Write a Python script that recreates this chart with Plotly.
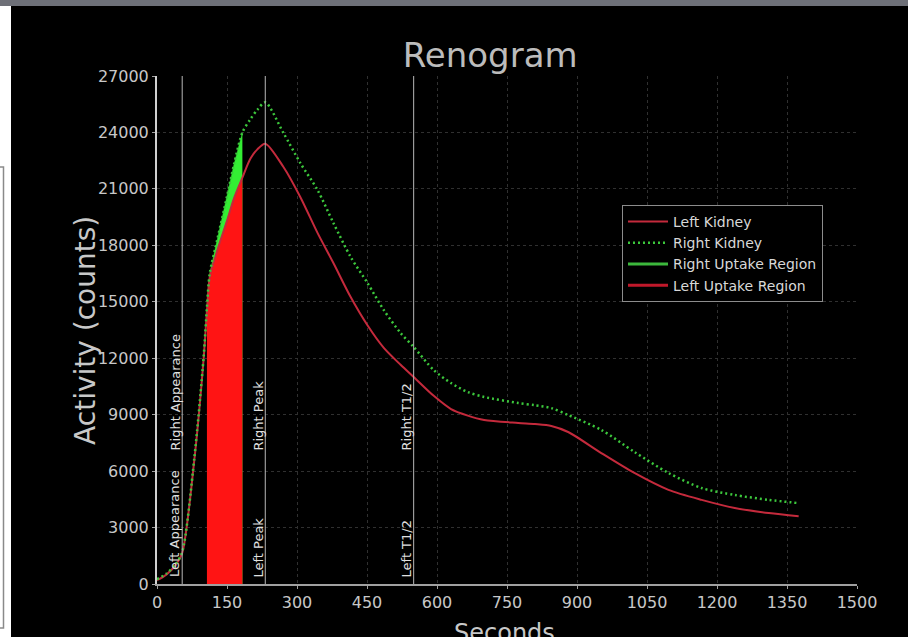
import plotly.graph_objects as go

# ---- data ----
time_s = [0, 20, 40, 54, 80, 100, 107, 113, 130, 150, 165, 183, 200, 215, 232,
          271, 307, 344, 378, 415, 451, 486, 522, 550, 593, 630, 666, 701, 774, 810, 845,
          881, 952, 1023, 1096, 1167, 1238, 1311, 1375]
left_kidney = [200, 500, 1000, 1650, 6600, 12000, 14500, 16300, 17800, 19300, 20500,
               21600, 22600, 23100, 23400, 22160, 20570, 18660, 17060, 15250, 13750,
               12550, 11650, 11000, 10000, 9300, 8950, 8720, 8560, 8500, 8400, 8080, 6960,
               5900, 5000, 4470, 4040, 3770, 3600]
right_kidney = [250, 550, 1050, 1700, 6700, 12100, 14700, 16500, 18400, 20600, 22300,
                24000, 24700, 25200, 25600, 23970, 22380, 20940, 19190, 17380, 16000,
                14560, 13340, 12600, 11370, 10680, 10200, 9940, 9620, 9500, 9350, 8980,
                8190, 7020, 5900, 5100, 4730, 4470, 4300]

right_uptake_t = [113, 130, 150, 165, 183]
right_uptake_v = [16500, 18400, 20600, 22300, 24000]
left_uptake_t = [107, 113, 130, 150, 165, 183]
left_uptake_v = [14500, 16300, 17800, 19300, 20500, 21600]

marker_times = [54, 232, 550]
marker_labels = ["Appearance", "Peak", "T1/2"]
right_label_y = 7000
left_label_y = 250

x_ticks = list(range(0, 1501, 150))
y_ticks = list(range(0, 27001, 3000))

# ---- styling ----
FONT = "DejaVu Sans"
TXT = "#c8c8c8"
RED_LINE = "#c42a3c"
GREEN_LINE = "#3cc83c"

fig = go.Figure()

# uptake regions (fills)
fig.add_trace(go.Scatter(x=right_uptake_t, y=right_uptake_v, mode="lines",
                         fill="tozeroy", fillcolor="#33ee33",
                         line=dict(color="#33ee33", width=0.5),
                         showlegend=False, hoverinfo="skip"))
fig.add_trace(go.Scatter(x=left_uptake_t, y=left_uptake_v, mode="lines",
                         fill="tozeroy", fillcolor="#ff1414",
                         line=dict(color="#ff1414", width=0.5),
                         showlegend=False, hoverinfo="skip"))

# kidney curves
fig.add_trace(go.Scatter(x=time_s, y=left_kidney, mode="lines", name="Left Kidney",
                         line=dict(color=RED_LINE, width=2, shape="spline", smoothing=0.8),
                         legendrank=1))
fig.add_trace(go.Scatter(x=time_s, y=right_kidney, mode="lines", name="Right Kidney",
                         line=dict(color=GREEN_LINE, width=2.5, dash="2px,3px",
                                   shape="spline", smoothing=0.8),
                         legendrank=2))

# legend-only entries for the uptake regions
fig.add_trace(go.Scatter(x=[None], y=[None], mode="lines", name="Right Uptake Region",
                         line=dict(color="#3cb83c", width=3), legendrank=3))
fig.add_trace(go.Scatter(x=[None], y=[None], mode="lines", name="Left Uptake Region",
                         line=dict(color="#c0182a", width=3), legendrank=4))

# vertical marker lines + labels
for t, lab in zip(marker_times, marker_labels):
    fig.add_shape(type="line", xref="x", yref="y", x0=t, x1=t, y0=0, y1=27000,
                  line=dict(color="#b8b8b8", width=1))
    fig.add_annotation(x=t, y=right_label_y, xref="x", yref="y", text="Right " + lab,
                       textangle=-90, showarrow=False, xanchor="center", yanchor="bottom",
                       xshift=-7, font=dict(family=FONT, size=13, color="#e0e0e0"))
    fig.add_annotation(x=t, y=left_label_y, xref="x", yref="y", text="Left " + lab,
                       textangle=-90, showarrow=False, xanchor="center", yanchor="bottom",
                       xshift=-7, font=dict(family=FONT, size=13, color="#e0e0e0"))

# axis titles
fig.add_annotation(x=-0.103, y=0.5, xref="paper", yref="paper", text="Activity (counts)",
                   textangle=-90, showarrow=False, xanchor="center", yanchor="middle",
                   font=dict(family=FONT, size=28, color=TXT))
fig.add_annotation(x=0.497, y=-0.064, xref="paper", yref="paper", text="Seconds",
                   showarrow=False, xanchor="center", yanchor="top",
                   font=dict(family=FONT, size=24, color=TXT))

# frame details outside the black chart (white strip on the left, grey bar on top)
fig.add_shape(type="rect", xref="paper", yref="paper", x0=-0.26, x1=(11 - 157) / 700,
              y0=-0.2, y1=1.2, fillcolor="white", line=dict(width=0), layer="above")
fig.add_shape(type="rect", xref="paper", yref="paper", x0=-0.26, x1=(3.5 - 157) / 700,
              y0=(584 - 628) / 508, y1=(584 - 167) / 508, fillcolor="rgba(0,0,0,0)",
              line=dict(color="#8a8a8a", width=1.5), layer="above")
fig.add_shape(type="rect", xref="paper", yref="paper", x0=-0.26, x1=1.2,
              y0=(584 - 6) / 508, y1=1.3, fillcolor="#6e7078", line=dict(width=0),
              layer="above")

fig.update_layout(
    width=908, height=637,
    margin=dict(l=157, r=51, t=76, b=53),
    paper_bgcolor="black", plot_bgcolor="black",
    title=dict(text="Renogram", x=0.476, xref="paper", y=1 - 55 / 637, yref="container",
               xanchor="center", yanchor="middle",
               font=dict(family=FONT, size=34, color="#bcbcbc")),
    font=dict(family=FONT, color=TXT),
    legend=dict(x=(622 - 157) / 700, y=(584 - 205) / 508, xanchor="left", yanchor="top",
                bgcolor="black", bordercolor="#8c8c8c", borderwidth=1,
                font=dict(family=FONT, size=14, color="#d8d8d8"),
                itemwidth=40, tracegroupgap=0),
    xaxis=dict(range=[0, 1500], tickvals=x_ticks, tickformat="d", showgrid=True,
               gridcolor="#303030", griddash="dot", gridwidth=1, zeroline=False,
               showline=True, linecolor="#a0a0a0", linewidth=2, ticks="outside",
               ticklen=3, tickcolor="#a0a0a0",
               tickfont=dict(family=FONT, size=16, color=TXT)),
    yaxis=dict(range=[0, 27000], tickvals=y_ticks, tickformat="d", showgrid=True,
               gridcolor="#303030", griddash="dot", gridwidth=1, zeroline=False,
               showline=True, linecolor="#d0d0d0", linewidth=2, ticks="outside",
               ticklen=3, tickcolor="#a0a0a0",
               tickfont=dict(family=FONT, size=16, color=TXT)),
    showlegend=True,
)

fig.write_html("out.html", config={"displayModeBar": False},
               post_script="document.body.style.margin='0';document.body.style.overflow='hidden';")
